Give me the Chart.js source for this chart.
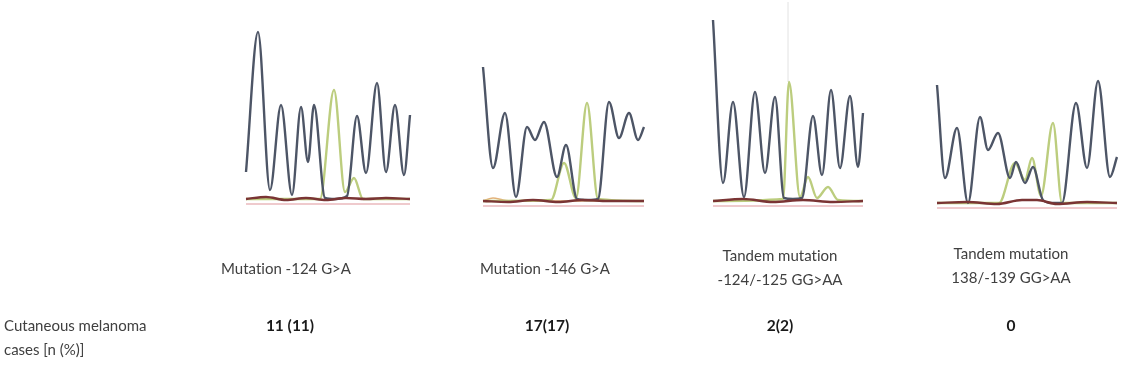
<!DOCTYPE html>
<html>
<head>
<meta charset="utf-8">
<script src="https://cdn.jsdelivr.net/npm/chart.js@4"></script>
<style>
  html, body { margin: 0; padding: 0; background: #fff; }
  body { width: 1124px; height: 376px; position: relative; overflow: hidden;
         font-family: Lato, "Open Sans", sans-serif; color: #404040;
         font-variant-ligatures: none; }
  canvas { position: absolute; filter: blur(0.6px); }
  .lbl { position: absolute; font-size: 15px; line-height: 24px; text-align: center;
         transform: translateX(-50%); white-space: nowrap; filter: blur(0.3px); }
  .num { font-weight: bold; color: #1a1a1a; font-size: 15.5px; }
  .row { position: absolute; left: 4px; font-size: 15px; line-height: 24px; filter: blur(0.3px); }
</style>
</head>
<body>
<canvas id="trace1"></canvas>
<canvas id="trace2"></canvas>
<canvas id="trace3"></canvas>
<canvas id="trace4"></canvas>

<div class="lbl" style="left:286px; top:256px;">Mutation -124 G&gt;A</div>
<div class="lbl" style="left:545px; top:256px;">Mutation -146 G&gt;A</div>
<div class="lbl" style="left:780px; top:243px;">Tandem mutation<br>-124/-125 GG&gt;AA</div>
<div class="lbl" style="left:1011px; top:241px;">Tandem mutation<br>138/-139 GG&gt;AA</div>

<div class="row" style="top:313px;">Cutaneous melanoma<br>cases [n (%)]</div>
<div class="lbl num" style="left:290px; top:313px;">11 (11)</div>
<div class="lbl num" style="left:547px; top:313px;">17(17)</div>
<div class="lbl num" style="left:780px; top:313px;">2(2)</div>
<div class="lbl num" style="left:1011px; top:313px;">0</div>

<script>
// peak/trough readings per trace: [scan offset, signal]

// -124 G>A
const mut124Dark = [[0,28],[12,168],[24,10],[35,95],[46,5],[55,93],[62,38],[68,95],[79,2],[89,1],[101,4],[111,84],[120,27],[131,117],[140,28],[149,95],[158,25],[164,85]];
const mut124Green = [[0,1],[74,1],[88,110],[99,8],[108,22],[117,1],[164,1]];
const mut124Red = [[0,1],[20,3],[40,0],[60,2],[80,0],[100,2],[120,1],[140,2],[164,1]];

// -146 G>A
const mut146Dark = [[0,135],[10,34],[22,89],[33,5],[44,75],[52,62],[61,80],[74,25],[83,57],[94,3],[105,2],[115,3],[126,100],[136,64],[146,89],[155,62],[161,75]];
const mut146Green = [[0,1],[68,2],[81,39],[93,4],[104,99],[115,3],[161,1]];
const mut146Orange = [[0,1],[10,4],[20,2],[30,1],[161,1]];
const mut146Red = [[0,1],[25,0],[50,2],[75,0],[100,2],[125,1],[161,1]];

// tandem -124/-125 GG>AA
const tandem124Dark = [[0,182],[10,19],[20,100],[31,5],[42,110],[52,29],[62,105],[71,4],[80,3],[89,4],[100,86],[109,27],[118,112],[127,34],[137,106],[145,35],[150,89]];
const tandem124Green = [[0,1],[70,3],[76,120],[87,5],[95,25],[104,4],[115,15],[125,2],[150,1]];
const tandem124Red = [[0,1],[30,3],[60,0],[90,2],[120,0],[150,1]];
const tandem124Cursor = [[75,120],[75,200]];

// tandem 138/-139 GG>AA
const tandem138Dark = [[0,119],[8,26],[20,76],[31,1],[43,87],[51,54],[61,71],[73,26],[79,42],[88,21],[96,37],[106,4],[115,1],[125,1],[139,101],[150,36],[161,123],[173,27],[180,47]];
const tandem138Green = [[0,1],[62,1],[78,41],[88,24],[95,46],[104,8],[116,81],[125,1],[180,1]];
const tandem138Red = [[0,1],[30,2],[60,0],[85,4],[100,4],[120,0],[150,2],[180,1]];

const pinkBase = [[0,-4],[200,-4]];

const DARK = '#4d5566', GREEN = '#bccd7e', RED = '#7a3434', PINK = '#eab8bc', ORANGE = '#e3b27a';

function toPts(arr) {
    return arr.map(p => ({ x: p[0], y: p[1] }));
}

function drawTrace(id, left, baseline, width, traces) {
    const canvas = document.getElementById(id);
    canvas.width = width + 4;
    canvas.height = 214;
    canvas.style.left = (left - 2) + 'px';
    canvas.style.top = (baseline - 202) + 'px';
    new Chart(canvas.getContext('2d'), {
        type: 'line',
        data: {
            datasets: traces.map(t => ({
                data: toPts(t.points),
                borderColor: t.color,
                borderWidth: t.width || 2.4,
                pointRadius: 0,
                fill: false,
                tension: 0,
                cubicInterpolationMode: t.straight ? 'default' : 'monotone',
                order: t.order,
                clip: false
            }))
        },
        options: {
            responsive: false,
            animation: false,
            events: [],
            layout: { padding: { left: 2, right: 2, top: 2, bottom: 2 } },
            plugins: { legend: { display: false }, tooltip: { enabled: false } },
            scales: {
                x: { type: 'linear', display: false, min: 0, max: width },
                y: { display: false, min: -10, max: 200 }
            }
        }
    });
}

drawTrace('trace1', 246, 200, 164, [
    { points: mut124Red, color: RED, order: 0 },
    { points: mut124Dark, color: DARK, order: 1 },
    { points: mut124Green, color: GREEN, order: 2 },
    { points: pinkBase.map(p => [Math.min(p[0], 164), p[1]]), color: PINK, width: 1.5, order: 3 }
]);

drawTrace('trace2', 483, 202, 161, [
    { points: mut146Red, color: RED, order: 0 },
    { points: mut146Dark, color: DARK, order: 1 },
    { points: mut146Green, color: GREEN, order: 2 },
    { points: mut146Orange, color: ORANGE, width: 1.5, order: 3 },
    { points: pinkBase.map(p => [Math.min(p[0], 161), p[1]]), color: PINK, width: 1.5, order: 4 }
]);

drawTrace('trace3', 713, 202, 150, [
    { points: tandem124Red, color: RED, order: 0 },
    { points: tandem124Dark, color: DARK, order: 1 },
    { points: tandem124Green, color: GREEN, order: 2 },
    { points: tandem124Cursor, color: '#e2e2e2', width: 1, straight: true, order: 3 },
    { points: pinkBase.map(p => [Math.min(p[0], 150), p[1]]), color: PINK, width: 1.5, order: 4 }
]);

drawTrace('trace4', 937, 204, 180, [
    { points: tandem138Red, color: RED, order: 0 },
    { points: tandem138Dark, color: DARK, order: 1 },
    { points: tandem138Green, color: GREEN, order: 2 },
    { points: pinkBase.map(p => [Math.min(p[0], 180), p[1]]), color: PINK, width: 1.5, order: 3 }
]);
</script>
</body>
</html>
